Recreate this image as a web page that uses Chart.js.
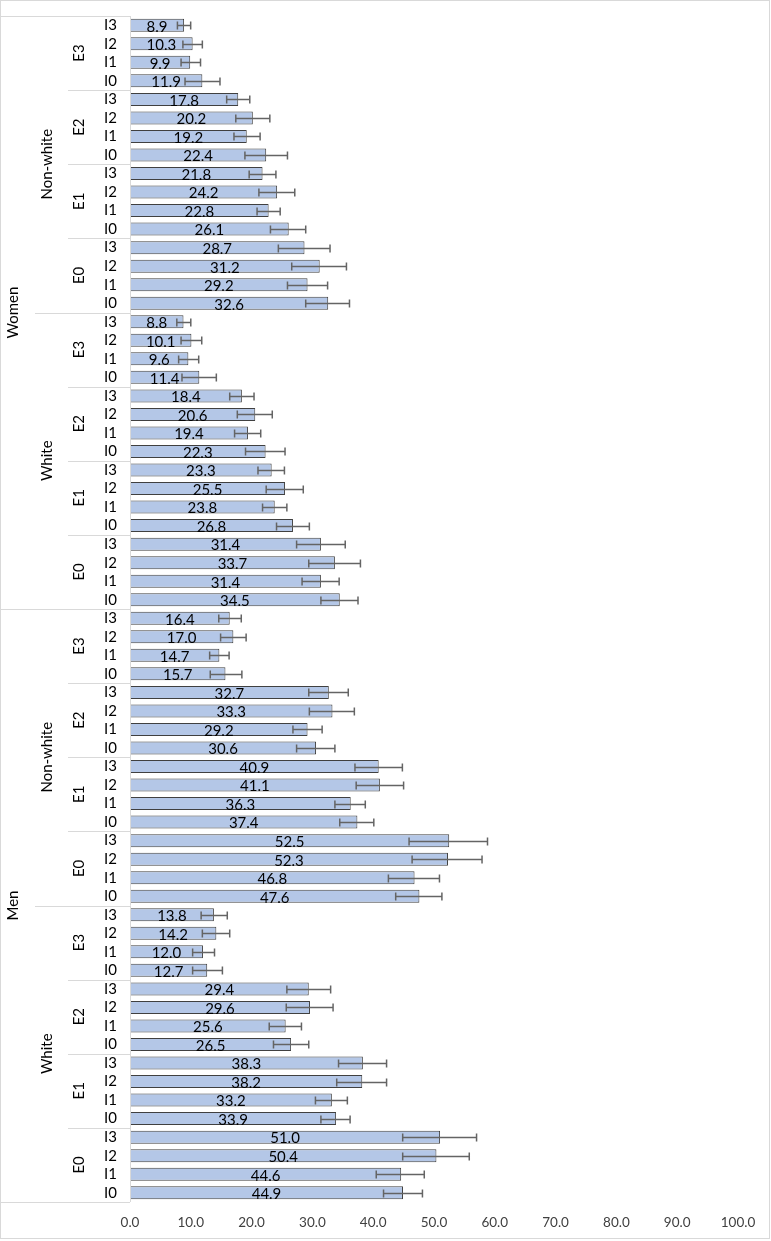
<!DOCTYPE html>
<html>
<head>
<meta charset="utf-8">
<script src="https://cdn.jsdelivr.net/npm/chart.js@4.4.1/dist/chart.umd.min.js"></script>
<style>
html,body{margin:0;padding:0;background:#fff;}
#wrap{width:771px;height:1241px;position:relative;}
</style>
</head>
<body>
<div id="wrap"><canvas id="c" width="771" height="1241"></canvas></div>
<script>
// ---- data (top to bottom) ----
const sexes = ['Women', 'Men'];
const races = ['Non-white', 'White'];
const eLevels = ['E3', 'E2', 'E1', 'E0'];
const iLevels = ['I3', 'I2', 'I1', 'I0'];
const xTicks = [0, 10, 20, 30, 40, 50, 60, 70, 80, 90, 100];

const values = [
  8.9, 10.3, 9.9, 11.9,   17.8, 20.2, 19.2, 22.4,   21.8, 24.2, 22.8, 26.1,   28.7, 31.2, 29.2, 32.6,
  8.8, 10.1, 9.6, 11.4,   18.4, 20.6, 19.4, 22.3,   23.3, 25.5, 23.8, 26.8,   31.4, 33.7, 31.4, 34.5,
  16.4, 17.0, 14.7, 15.7, 32.7, 33.3, 29.2, 30.6,   40.9, 41.1, 36.3, 37.4,   52.5, 52.3, 46.8, 47.6,
  13.8, 14.2, 12.0, 12.7, 29.4, 29.6, 25.6, 26.5,   38.3, 38.2, 33.2, 33.9,   51.0, 50.4, 44.6, 44.9
];
const ciLow = [
  7.8, 8.7, 8.4, 9.05,    15.9, 17.4, 17.1, 18.9,   19.6, 21.2, 20.9, 23.1,   24.4, 26.6, 25.9, 28.9,
  7.7, 8.4, 8.0, 8.55,    16.4, 17.65, 17.2, 19.0,  21.05, 22.4, 21.8, 24.1,  27.4, 29.4, 28.3, 31.4,
  14.6, 14.9, 13.1, 13.2, 29.4, 29.5, 26.8, 27.4,   37.0, 37.2, 33.7, 34.5,   45.9, 46.4, 42.5, 43.7,
  11.7, 11.9, 10.3, 10.3, 25.8, 25.7, 22.9, 23.6,   34.3, 34.0, 30.5, 31.4,   44.85, 44.85, 40.5, 41.7
];
const ciHigh = [
  9.98, 11.9, 11.6, 14.8, 19.7, 23.0, 21.4, 25.9,   24.0, 27.1, 24.7, 28.9,   32.9, 35.6, 32.5, 36.1,
  10.0, 11.8, 11.3, 14.2, 20.4, 23.4, 21.5, 25.5,   25.4, 28.5, 25.8, 29.5,   35.4, 37.9, 34.4, 37.5,
  18.3, 19.1, 16.3, 18.4, 35.9, 36.9, 31.6, 33.7,   44.8, 45.0, 38.7, 40.1,   58.8, 57.9, 50.9, 51.3,
  16.0, 16.4, 13.9, 15.2, 33.0, 33.4, 28.2, 29.4,   42.2, 42.2, 35.75, 36.2,  57.0, 55.8, 48.4, 48.1
];

// category labels built from the level arrays
const labels = [];
sexes.forEach(() => races.forEach(() => eLevels.forEach(() => iLevels.forEach(i => labels.push(i)))));

const FONT = 'Lato, "Open Sans", "Liberation Sans", sans-serif';
const LINE = '#d9d9d9';

const decorPlugin = {
  id: 'decor',
  afterDatasetsDraw(chart) {
    const ctx = chart.ctx;
    const ys = chart.scales.y, xs = chart.scales.x;
    const area = chart.chartArea;
    const n = labels.length;
    const py = k => ys.getPixelForValue(k);
    const half = (py(1) - py(0)) / 2;

    ctx.save();
    // error bars
    ctx.strokeStyle = '#646464';
    ctx.lineWidth = 1.5;
    for (let k = 0; k < n; k++) {
      const y = Math.round(py(k)) + 0.5;
      const x1 = xs.getPixelForValue(ciLow[k]);
      const x2 = xs.getPixelForValue(ciHigh[k]);
      ctx.beginPath();
      ctx.moveTo(x1, y); ctx.lineTo(x2, y);
      ctx.moveTo(x1, y - 4); ctx.lineTo(x1, y + 4);
      ctx.moveTo(x2, y - 4); ctx.lineTo(x2, y + 4);
      ctx.stroke();
    }
    // data labels
    ctx.fillStyle = '#000';
    ctx.font = '15px ' + FONT;
    ctx.textAlign = 'center';
    ctx.textBaseline = 'middle';
    for (let k = 0; k < n; k++) {
      const x0 = xs.getPixelForValue(0), x1 = xs.getPixelForValue(values[k]);
      ctx.fillText(values[k].toFixed(1), (x0 + x1) / 2, py(k) + 1.5);
    }

    // category axis lines
    ctx.strokeStyle = LINE;
    ctx.lineWidth = 1;
    ctx.beginPath();
    ctx.moveTo(area.left + 0.5, area.top); ctx.lineTo(area.left + 0.5, area.bottom);
    ctx.moveTo(0, Math.round(area.top) + 0.5); ctx.lineTo(area.left, Math.round(area.top) + 0.5);
    ctx.moveTo(0, Math.round(area.bottom) + 0.5); ctx.lineTo(area.left, Math.round(area.bottom) + 0.5);
    const perE = iLevels.length, perR = perE * eLevels.length, perS = perR * races.length;
    for (let k = perE; k < n; k += perE) {
      const y = Math.round(py(k) - half) + 0.5;
      let x0 = 68;
      if (k % perS === 0) x0 = 0; else if (k % perR === 0) x0 = 35;
      ctx.moveTo(x0, y); ctx.lineTo(area.left, y);
    }
    ctx.stroke();

    // group labels (rotated)
    ctx.fillStyle = '#000';
    ctx.font = '15px ' + FONT;
    const rot = (txt, x, y) => {
      ctx.save();
      ctx.translate(x, y);
      ctx.rotate(-Math.PI / 2);
      ctx.textAlign = 'center';
      ctx.textBaseline = 'middle';
      ctx.fillText(txt, 0, 0);
      ctx.restore();
    };
    sexes.forEach((s, si) => {
      const sStart = si * perS;
      rot(s, 13, (py(sStart) + py(sStart + perS - 1)) / 2);
      races.forEach((r, ri) => {
        const rStart = sStart + ri * perR;
        rot(r, 47, (py(rStart) + py(rStart + perR - 1)) / 2);
        eLevels.forEach((e, ei) => {
          const eStart = rStart + ei * perE;
          rot(e, 79, (py(eStart) + py(eStart + perE - 1)) / 2);
        });
      });
    });

    // chart border
    ctx.strokeStyle = LINE;
    ctx.lineWidth = 1;
    ctx.strokeRect(0.5, 0.5, 769, 1238);
    ctx.restore();
  }
};

new Chart(document.getElementById('c'), {
  type: 'bar',
  data: {
    labels: labels,
    datasets: [{
      data: values,
      backgroundColor: '#b4c7e7',
      borderColor: '#404040',
      borderWidth: 1,
      borderSkipped: false,
      barPercentage: 0.7,
      categoryPercentage: 1.0
    }]
  },
  options: {
    indexAxis: 'y',
    responsive: false,
    animation: false,
    events: [],
    layout: { padding: { top: 16, right: 33, left: 0, bottom: 0 } },
    plugins: { legend: { display: false }, tooltip: { enabled: false }, title: { display: false } },
    scales: {
      x: {
        min: 0, max: 100,
        afterBuildTicks(scale) { scale.ticks = xTicks.map(v => ({ value: v })); },
        ticks: {
          callback: v => Number(v).toFixed(1),
          font: { family: FONT, size: 13.5 },
          color: '#404040',
          padding: 13,
          maxRotation: 0
        },
        grid: { display: false, drawTicks: false },
        border: { display: false },
        afterFit(scale) { scale.height = 39; }
      },
      y: {
        ticks: {
          font: { family: FONT, size: 15 },
          color: '#000',
          padding: 13,
          autoSkip: false
        },
        grid: { display: false, drawTicks: false },
        border: { display: false },
        afterFit(scale) { scale.width = 130; scale.paddingTop = 0; scale.paddingBottom = 0; }
      }
    }
  },
  plugins: [decorPlugin]
});
</script>
</body>
</html>
